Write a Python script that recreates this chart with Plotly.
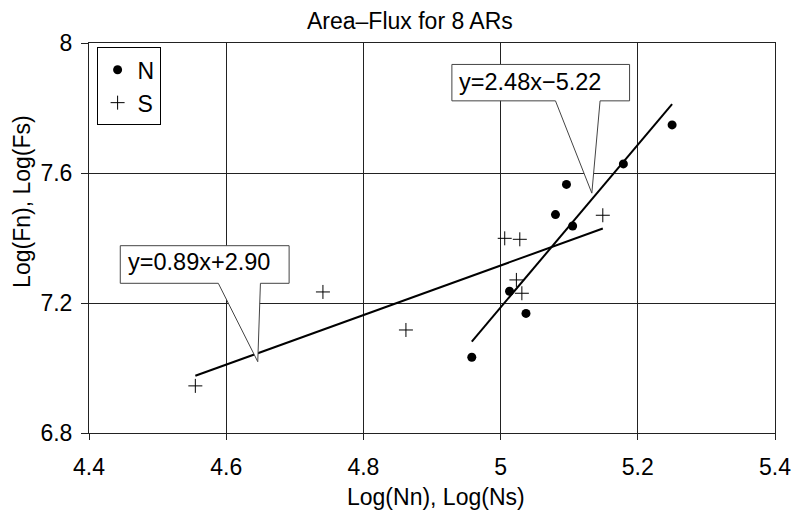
import numpy as np
import plotly.graph_objects as go

# ---- data ----
n_x = [4.958, 5.013, 5.037, 5.080, 5.096, 5.105, 5.179, 5.250]
n_y = [7.033, 7.236, 7.168, 7.472, 7.565, 7.437, 7.628, 7.748]
s_x = [4.555, 4.741, 4.862, 5.006, 5.023, 5.028, 5.031, 5.149]
s_y = [6.945, 7.234, 7.117, 7.399, 7.271, 7.396, 7.230, 7.470]

x_ticks = [4.4, 4.6, 4.8, 5.0, 5.2, 5.4]
x_tick_labels = ["4.4", "4.6", "4.8", "5", "5.2", "5.4"]
y_ticks = [6.8, 7.2, 7.6, 8.0]
y_tick_labels = ["6.8", "7.2", "7.6", "8"]

eq_n = "y=2.48x\u22125.22"
eq_s = "y=0.89x+2.90"

FONT = "Liberation Sans, Arial, Helvetica, sans-serif"


def fit_line(xs, ys):
    k, b = np.polyfit(xs, ys, 1)
    xx = np.array([min(xs), max(xs)])
    return xx, k * xx + b


fig = go.Figure()

nlx, nly = fit_line(n_x, n_y)
slx, sly = fit_line(s_x, s_y)

fig.add_trace(go.Scatter(x=nlx, y=nly, mode="lines", line=dict(color="black", width=2),
                         showlegend=False, hoverinfo="skip"))
fig.add_trace(go.Scatter(x=slx, y=sly, mode="lines", line=dict(color="black", width=2),
                         showlegend=False, hoverinfo="skip"))

fig.add_trace(go.Scatter(x=n_x, y=n_y, mode="markers", name="N",
                         marker=dict(symbol="circle", size=9, color="black")))
fig.add_trace(go.Scatter(x=s_x, y=s_y, mode="markers", name="S",
                         marker=dict(symbol="cross-thin", size=10, color="black",
                                     line=dict(color="black", width=1))))


def callout(x0, x1, y0, y1, wl, wr, tx, ty):
    path = (f"M {x0},{y0} L {x1},{y0} L {x1},{y1} L {wr},{y1} L {tx},{ty} "
            f"L {wl},{y1} L {x0},{y1} Z")
    return dict(type="path", path=path, xref="x", yref="y",
                line=dict(color="#444", width=1), fillcolor="white", layer="above")


shapes = [
    callout(4.929, 5.188, 7.934, 7.822, 5.080, 5.145, 5.133, 7.538),
    callout(4.4456, 4.6917, 7.3763, 7.2606, 4.5885, 4.6499, 4.646, 7.0194),
]

annotations = [
    dict(x=4.937, y=7.879, xref="x", yref="y", text=eq_n, showarrow=False,
         xanchor="left", yanchor="middle", font=dict(size=23.5, color="black", family=FONT)),
    dict(x=4.4535, y=7.326, xref="x", yref="y", text=eq_s, showarrow=False,
         xanchor="left", yanchor="middle", font=dict(size=23.5, color="black", family=FONT)),
    dict(x=(414 - 89) / 695, y=(433 - 21) / 390, xref="paper", yref="paper",
         text="Area\u2013Flux for 8 ARs", showarrow=False, xanchor="center", yanchor="middle",
         font=dict(size=23, color="black", family=FONT)),
    dict(x=(441 - 89) / 695, y=(433 - 497) / 390, xref="paper", yref="paper",
         text="Log(Nn), Log(Ns)", showarrow=False, xanchor="center", yanchor="middle",
         font=dict(size=23, color="black", family=FONT)),
    dict(x=(21 - 89) / 695, y=(433 - 201) / 390, xref="paper", yref="paper",
         text="Log(Fn), Log(Fs)", showarrow=False, xanchor="center", yanchor="middle",
         textangle=-90, font=dict(size=23, color="black", family=FONT)),
]

fig.update_layout(
    width=803, height=513,
    margin=dict(l=89, r=19, t=43, b=80),
    paper_bgcolor="white", plot_bgcolor="white",
    font=dict(family=FONT, size=22, color="black"),
    shapes=shapes, annotations=annotations,
    showlegend=True,
    legend=dict(x=(96.7 - 89) / 695, y=(433 - 47.3) / 390, xanchor="left", yanchor="top",
                bordercolor="black", borderwidth=1, bgcolor="white",
                font=dict(size=23, family=FONT, color="black"),
                itemwidth=30, tracegroupgap=0),
)

fig.update_xaxes(range=[4.4, 5.4], tickvals=x_ticks, ticktext=x_tick_labels,
                 showgrid=True, gridcolor="#222", gridwidth=1,
                 showline=True, linecolor="#222", linewidth=1, mirror=True,
                 ticks="outside", ticklen=6, tickcolor="#222",
                 ticklabelstandoff=7, zeroline=False,
                 tickfont=dict(size=23, family=FONT, color="black"))
fig.update_yaxes(range=[6.8, 8.0], tickvals=y_ticks, ticktext=y_tick_labels,
                 showgrid=True, gridcolor="#222", gridwidth=1,
                 showline=True, linecolor="#222", linewidth=1, mirror=True,
                 ticks="outside", ticklen=7, tickcolor="#222",
                 ticklabelstandoff=4, zeroline=False,
                 tickfont=dict(size=23, family=FONT, color="black"))

fig.write_html("out.html")
